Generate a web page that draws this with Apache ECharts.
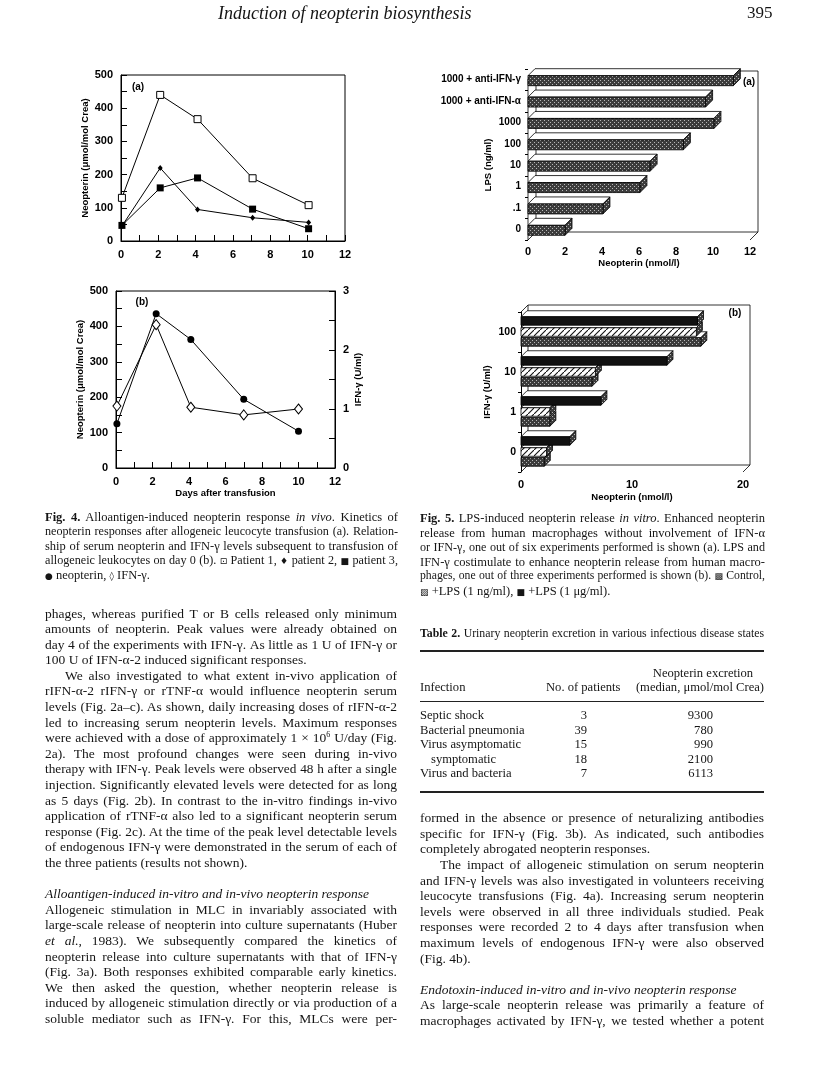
<!DOCTYPE html>
<html>
<head>
<meta charset="utf-8">
<script src="https://cdn.jsdelivr.net/npm/echarts@6/dist/echarts.min.js"></script>
<style>
  html, body { margin: 0; padding: 0; background: #fff; }
  #page { position: relative; width: 816px; height: 1087px; overflow: hidden; }
  #chart { position: absolute; left: 0; top: 0; width: 816px; height: 1087px; }
  .txt { position: absolute; font-family: "Liberation Serif", "DejaVu Serif", serif; color: #151515; }
  .txt div { text-align: justify; }
  .sym { font-family: "DejaVu Sans", sans-serif; font-size: 9px; }
  .cell { position: absolute; font-family: "Liberation Serif", serif; color: #151515; font-size: 12.6px; white-space: nowrap; line-height: 14px; }
  .rule { position: absolute; left: 420px; width: 344px; background: #222; }
</style>
</head>
<body>
<div id="page">
  <div id="chart"></div>
</div>
<script>
// ---- Fig. 4a: serum neopterin of three patients
const daysA = [0.05, 2.1, 4.1, 7.05, 10.05];
const patient1 = [130, 440, 367, 189, 108];
const patient2 = [45, 220, 95, 70, 56];
const patient3 = [47, 160, 190, 96, 37];

// ---- Fig. 4b: neopterin vs IFN-gamma
const daysB = [0.05, 2.2, 4.1, 7, 10];
const neopterinB = [125, 436, 363, 194, 104];
const ifnB = [1.05, 2.43, 1.03, 0.9, 1.0];

// ---- Fig. 5a: LPS doses
const lpsCats = ['0', '.1', '1', '10', '100', '1000', '1000 + anti-IFN-α', '1000 + anti-IFN-γ'];
const lpsValues = [2.0, 4.05, 6.05, 6.6, 8.4, 10.05, 9.6, 11.1];

// ---- Fig. 5b: IFN-gamma with LPS
const ifnCats = ['0', '1', '10', '100'];
const control = [2.1, 2.6, 6.4, 16.2];
const lps1ng = [2.3, 2.6, 6.7, 15.8];
const lps1ug = [4.4, 7.2, 13.15, 15.9];

// ---- Table 2
const infections = ['Septic shock', 'Bacterial pneumonia', 'Virus asymptomatic', '  symptomatic', 'Virus and bacteria'];
const nPatients = ['3', '39', '15', '18', '7'];
const excretion = ['9300', '780', '990', '2100', '6113'];

// ---------- text of the page
const leftBody = [
  'phages, whereas purified T or B cells released only minimum',
  'amounts of neopterin. Peak values were already obtained on',
  'day 4 of the experiments with IFN-γ. As little as 1 U of IFN-γ or',
  '100 U of IFN-α-2 induced significant responses.|',
  '>We also investigated to what extent in-vivo application of',
  'rIFN-α-2 rIFN-γ or rTNF-α would influence neopterin serum',
  'levels (Fig. 2a–c). As shown, daily increasing doses of rIFN-α-2',
  'led to increasing serum neopterin levels. Maximum responses',
  'were achieved with a dose of approximately 1 × 10<sup style="font-size:8px;line-height:0">6</sup> U/day (Fig.',
  '2a). The most profound changes were seen during in-vivo',
  'therapy with IFN-γ. Peak levels were observed 48 h after a single',
  'injection. Significantly elevated levels were detected for as long',
  'as 5 days (Fig. 2b). In contrast to the in-vitro findings in-vivo',
  'application of rTNF-α also led to a significant neopterin serum',
  'response (Fig. 2c). At the time of the peak level detectable levels',
  'of endogenous IFN-γ were demonstrated in the serum of each of',
  'the three patients (results not shown).|',
  '|',
  '<i>Alloantigen-induced in-vitro and in-vivo neopterin response</i>|',
  'Allogeneic stimulation in MLC in invariably associated with',
  'large-scale release of neopterin into culture supernatants (Huber',
  '<i>et al.</i>, 1983). We subsequently compared the kinetics of',
  'neopterin release into culture supernatants with that of IFN-γ',
  '(Fig. 3a). Both responses exhibited comparable early kinetics.',
  'We then asked the question, whether neopterin release is',
  'induced by allogeneic stimulation directly or via production of a',
  'soluble mediator such as IFN-γ. For this, MLCs were per-'
];
const rightBody = [
  'formed in the absence or presence of neturalizing antibodies',
  'specific for IFN-γ (Fig. 3b). As indicated, such antibodies',
  'completely abrogated neopterin responses.|',
  '>The impact of allogeneic stimulation on serum neopterin',
  'and IFN-γ levels was also investigated in volunteers receiving',
  'leucocyte transfusions (Fig. 4a). Increasing serum neopterin',
  'levels were observed in all three individuals studied. Peak',
  'responses were recorded 2 to 4 days after transfusion when',
  'maximum levels of endogenous IFN-γ were also observed',
  '(Fig. 4b).|',
  '|',
  '<i>Endotoxin-induced in-vitro and in-vivo neopterin response</i>|',
  'As large-scale neopterin release was primarily a feature of',
  'macrophages activated by IFN-γ, we tested whether a potent'
];
const cap4 = [
  '<b>Fig. 4.</b> Alloantigen-induced neopterin response <i>in vivo</i>. Kinetics of',
  'neopterin responses after allogeneic leucocyte transfusion (a). Relation-',
  'ship of serum neopterin and IFN-γ levels subsequent to transfusion of',
  'allogeneic leukocytes on day 0 (b). <span class="sym">⊡</span> Patient 1, <span class="sym">♦</span> patient 2, <span class="sym">■</span> patient 3,',
  '<span class="sym">●</span> neopterin, <span class="sym">◊</span> IFN-γ.|'
];
const cap5 = [
  '<b>Fig. 5.</b> LPS-induced neopterin release <i>in vitro</i>. Enhanced neopterin',
  'release from human macrophages without involvement of IFN-α',
  'or IFN-γ, one out of six experiments performed is shown (a). LPS and',
  'IFN-γ costimulate to enhance neopterin release from human macro-',
  'phages, one out of three experiments performed is shown (b). <span class="sym">▩</span> Control,',
  '<span class="sym">▨</span> +LPS (1 ng/ml), <span class="sym">■</span> +LPS (1 μg/ml).|'
];

const page = document.getElementById('page');

// one div per printed line; lines that are too long are shrunk to fit
function block(x, top, width, step, size, lines) {
  const el = document.createElement('div');
  el.className = 'txt';
  el.style.left = x + 'px';
  el.style.top = top + 'px';
  el.style.width = width + 'px';
  page.appendChild(el);
  lines.forEach(function (s) {
    let t = s, last = false, indent = false;
    if (t.startsWith('>')) { indent = true; t = t.slice(1); }
    if (t.endsWith('|')) { last = true; t = t.slice(0, -1); }
    const d = document.createElement('div');
    d.style.height = step + 'px';
    d.style.lineHeight = step + 'px';
    d.style.fontSize = size + 'px';
    d.style.whiteSpace = 'nowrap';
    if (indent) d.style.textIndent = '20px';
    const span = document.createElement('span');
    span.innerHTML = t || '&nbsp;';
    d.appendChild(span);
    el.appendChild(d);
    const avail = width - (indent ? 20 : 0) - 1;
    const w = span.getBoundingClientRect().width;
    if (w > avail) d.style.fontSize = (size * avail / w * 0.99) + 'px';
    d.innerHTML = t || '&nbsp;';
    d.style.whiteSpace = 'normal';
    d.style.textAlignLast = last ? 'left' : 'justify';
  });
}

function cell(html, x, y, align) {
  const d = document.createElement('div');
  d.className = 'cell';
  d.innerHTML = html;
  d.style.top = (y - 7) + 'px';
  if (align === 'right') d.style.right = (816 - x) + 'px';
  else if (align === 'center') { d.style.left = (x - 100) + 'px'; d.style.width = '200px'; d.style.textAlign = 'center'; }
  else d.style.left = x + 'px';
  page.appendChild(d);
}

function rule(y, h) {
  const d = document.createElement('div');
  d.className = 'rule';
  d.style.top = y + 'px';
  d.style.height = h + 'px';
  page.appendChild(d);
}

// running head
const head = document.createElement('div');
head.className = 'txt';
head.style.cssText = 'left:0;width:816px;top:2px;font-size:18px;font-style:italic;line-height:22px;';
head.innerHTML = '<span style="position:absolute;left:218px">Induction of neopterin biosynthesis</span><span style="position:absolute;left:747px;font-style:normal;font-size:17px">395</span>';
page.appendChild(head);

block(45, 605.5, 352, 15.6, 13.5, leftBody);
block(420, 810.2, 344, 15.6, 13.5, rightBody);
block(45, 509.5, 353, 14.6, 12.5, cap4);
block(420, 511, 345, 14.5, 12.5, cap5);
block(420, 626, 344, 14, 12.5, ['<b>Table 2.</b> Urinary neopterin excretion in various infectious disease states']);

rule(650, 1.6);
rule(701, 0.8);
rule(791, 1.6);
cell('Neopterin excretion', 703, 673, 'center');
cell('Infection', 420, 687);
cell('No. of patients', 546, 687);
cell('(median, μmol/mol Crea)', 764, 687, 'right');
const rowY = [715, 729.5, 744, 758.5, 773];
infections.forEach(function (name, i) {
  const sub = name.startsWith('  ');
  cell(name.trim(), sub ? 431 : 420, rowY[i]);
  cell(nPatients[i], 587, rowY[i], 'right');
  cell(excretion[i], 713, rowY[i], 'right');
});

// ---------- chart part
function pattern(kind) {
  const c = document.createElement('canvas');
  const g = c.getContext('2d');
  if (kind === 'dots') {
    c.width = c.height = 4;
    g.fillStyle = '#3c3c3c'; g.fillRect(0, 0, 4, 4);
    g.fillStyle = '#b8b8b8'; g.fillRect(0, 0, 1, 1); g.fillRect(2, 2, 1, 1);
  } else {
    c.width = c.height = 6;
    g.fillStyle = '#fff'; g.fillRect(0, 0, 6, 6);
    g.strokeStyle = '#111'; g.lineWidth = 1.1;
    g.beginPath(); g.moveTo(-1, 7); g.lineTo(7, -1); g.stroke();
  }
  return { image: c, repeat: 'repeat' };
}
const dots = pattern('dots');
const hatch = pattern('hatch');

function bar3d(cfg) {
  return function (params, api) {
    const p0 = api.coord([0, api.value(1)]);
    const p1 = api.coord([api.value(0), api.value(1)]);
    const x0 = p0[0], x1 = p1[0], d = cfg.d;
    const yc = p0[1] + cfg.offset, y0 = yc - cfg.h / 2, y1 = yc + cfg.h / 2;
    const ln = { stroke: '#000', lineWidth: 0.8 };
    return {
      type: 'group',
      children: [
        { type: 'polygon', shape: { points: [[x0, y0], [x1, y0], [x1 + d, y0 - d], [x0 + d, y0 - d]] }, style: Object.assign({ fill: '#fff' }, ln) },
        { type: 'polygon', shape: { points: [[x1, y0], [x1 + d, y0 - d], [x1 + d, y1 - d], [x1, y1]] }, style: Object.assign({ fill: dots }, ln) },
        { type: 'rect', shape: { x: x0, y: y0, width: x1 - x0, height: y1 - y0 }, style: Object.assign({ fill: cfg.front }, ln) }
      ]
    };
  };
}

const F = 'Liberation Sans';
const tickLabel = { color: '#000', fontFamily: F, fontWeight: 'bold', fontSize: 11 };
const nameStyle = { color: '#000', fontFamily: F, fontWeight: 'bold', fontSize: 9.5 };
const black = { color: '#000', width: 1 };

const g5a = { left: 528, top: 69, width: 222, height: 171 };
const g5b = { left: 521, top: 312, width: 222, height: 160 };

function line(p, q) {
  return { type: 'line', shape: { x1: p[0], y1: p[1], x2: q[0], y2: q[1] }, style: { stroke: '#000', lineWidth: 0.8 }, z: 0 };
}
function box(g, d, frontTop) {
  const L = g.left, R = g.left + g.width, B = g.top + g.height, T = frontTop;
  return [
    line([L, T], [L + d, T - d]),
    line([L + d, T - d], [R + d, T - d]),
    line([L + d, T - d], [L + d, B - d]),
    line([R + d, T - d], [R + d, B - d]),
    line([L + d, B - d], [R + d, B - d]),
    line([L, B], [L + d, B - d]),
    line([R, B], [R + d, B - d])
  ];
}
function label(text, x, y, extra) {
  return Object.assign({ type: 'text', x: x, y: y, style: { text: text, fill: '#000', font: 'bold 10px "Liberation Sans"', align: 'center', verticalAlign: 'middle' } }, extra || {});
}

const valueX = {
  type: 'value', min: 0, max: 12, interval: 1,
  axisLine: { lineStyle: black },
  axisTick: { inside: true, length: 6, lineStyle: black },
  axisLabel: Object.assign({ margin: 8, formatter: function (v) { return v % 2 === 0 ? v : ''; } }, tickLabel),
  splitLine: { show: false }
};
const neoY = {
  type: 'value', min: 0, max: 500, interval: 50,
  axisLine: { show: true, lineStyle: black },
  axisTick: { show: true, inside: true, length: 6, lineStyle: black },
  axisLabel: Object.assign({ margin: 8, formatter: function (v) { return v % 100 === 0 ? v : ''; } }, tickLabel),
  splitLine: { show: false },
  name: 'Neopterin (μmol/mol Crea)', nameLocation: 'middle', nameRotate: 90, nameTextStyle: nameStyle
};

const chart = echarts.init(document.getElementById('chart'), null, { renderer: 'canvas' });
chart.setOption({
  animation: false,
  backgroundColor: 'transparent',
  grid: [
    { left: 121, top: 75, width: 224, height: 166, show: true, borderColor: '#000', borderWidth: 1 },
    { left: 116, top: 291, width: 219, height: 177, show: true, borderColor: '#000', borderWidth: 1 },
    g5a,
    g5b
  ],
  xAxis: [
    Object.assign({ gridIndex: 0 }, valueX),
    Object.assign({ gridIndex: 1, name: 'Days after transfusion', nameLocation: 'middle', nameGap: 19, nameTextStyle: nameStyle }, valueX),
    {
      gridIndex: 2, type: 'value', min: 0, max: 12, interval: 1,
      axisLine: { lineStyle: black }, axisTick: { length: 3, lineStyle: black },
      axisLabel: Object.assign({ margin: 6, formatter: function (v) { return v % 2 === 0 ? v : ''; } }, tickLabel),
      splitLine: { show: false },
      name: 'Neopterin (nmol/l)', nameLocation: 'middle', nameGap: 15, nameTextStyle: nameStyle
    },
    {
      gridIndex: 3, type: 'value', min: 0, max: 20, interval: 10,
      axisLine: { lineStyle: black }, axisTick: { length: 3, lineStyle: black },
      axisLabel: Object.assign({ margin: 7 }, tickLabel),
      splitLine: { show: false },
      name: 'Neopterin (nmol/l)', nameLocation: 'middle', nameGap: 20, nameTextStyle: nameStyle
    }
  ],
  yAxis: [
    Object.assign({ gridIndex: 0, nameGap: 23 }, neoY),
    Object.assign({ gridIndex: 1, nameGap: 25 }, neoY),
    {
      gridIndex: 1, type: 'value', position: 'right', min: 0, max: 3, interval: 0.5,
      axisLine: { show: true, lineStyle: black },
      axisTick: { show: true, inside: true, length: 6, lineStyle: black },
      axisLabel: Object.assign({ margin: 8, formatter: function (v) { return Number.isInteger(v) ? v : ''; } }, tickLabel),
      splitLine: { show: false },
      name: 'IFN-γ (U/ml)', nameLocation: 'middle', nameRotate: 90, nameGap: 17, nameTextStyle: nameStyle
    },
    {
      gridIndex: 2, type: 'category', data: lpsCats,
      axisLine: { show: false }, axisTick: { show: true, length: 3, lineStyle: black },
      axisLabel: { color: '#000', fontFamily: F, fontWeight: 'bold', fontSize: 10, margin: 7 }
    },
    {
      gridIndex: 3, type: 'category', data: ifnCats,
      axisLine: { show: true, lineStyle: black }, axisTick: { show: true, length: 3, lineStyle: black },
      axisLabel: { color: '#000', fontFamily: F, fontWeight: 'bold', fontSize: 10.5, margin: 5 },
      name: 'IFN-γ (U/ml)', nameLocation: 'middle', nameRotate: 90, nameGap: 29, nameTextStyle: nameStyle
    }
  ],
  graphic: [].concat(
    [line([g5a.left, g5a.top + g5a.height], [g5a.left, 79])],
    box(g5a, 8, 79),
    box(g5b, 7, g5b.top),
    [
      label('(a)', 138, 87),
      label('(b)', 142, 302),
      label('(a)', 749, 82),
      label('(b)', 735, 313),
      label('LPS (ng/ml)', 488, 165, { rotation: Math.PI / 2, style: { text: 'LPS (ng/ml)', fill: '#000', font: 'bold 9.5px "Liberation Sans"', align: 'center', verticalAlign: 'middle' } })
    ]
  ),
  series: [
    {
      type: 'line', xAxisIndex: 0, yAxisIndex: 0, data: daysA.map(function (d, i) { return [d, patient1[i]]; }),
      symbol: 'rect', symbolSize: 7, lineStyle: black, itemStyle: { color: '#fff', borderColor: '#000', borderWidth: 1 }, z: 3
    },
    {
      type: 'line', xAxisIndex: 0, yAxisIndex: 0, data: daysA.map(function (d, i) { return [d, patient2[i]]; }),
      symbol: 'diamond', symbolSize: [5, 6], lineStyle: black, itemStyle: { color: '#000' }
    },
    {
      type: 'line', xAxisIndex: 0, yAxisIndex: 0, data: daysA.map(function (d, i) { return [d, patient3[i]]; }),
      symbol: 'rect', symbolSize: 7, lineStyle: black, itemStyle: { color: '#000' }
    },
    {
      type: 'line', xAxisIndex: 1, yAxisIndex: 1, data: daysB.map(function (d, i) { return [d, neopterinB[i]]; }),
      symbol: 'circle', symbolSize: 7, lineStyle: black, itemStyle: { color: '#000' }
    },
    {
      type: 'line', xAxisIndex: 1, yAxisIndex: 2, data: daysB.map(function (d, i) { return [d, ifnB[i]]; }),
      symbol: 'diamond', symbolSize: [8, 10], lineStyle: black, itemStyle: { color: '#fff', borderColor: '#000', borderWidth: 1 }, z: 3
    },
    {
      type: 'custom', xAxisIndex: 2, yAxisIndex: 3, clip: false,
      data: lpsValues.map(function (v, i) { return [v, i]; }), encode: { x: 0, y: 1 },
      renderItem: bar3d({ offset: 1, h: 10, d: 7, front: dots })
    },
    {
      type: 'custom', xAxisIndex: 3, yAxisIndex: 4, clip: false,
      data: control.map(function (v, i) { return [v, i]; }), encode: { x: 0, y: 1 },
      renderItem: bar3d({ offset: 10, h: 8.5, d: 6, front: dots })
    },
    {
      type: 'custom', xAxisIndex: 3, yAxisIndex: 4, clip: false,
      data: lps1ng.map(function (v, i) { return [v, i]; }), encode: { x: 0, y: 1 },
      renderItem: bar3d({ offset: 0, h: 8.5, d: 6, front: hatch })
    },
    {
      type: 'custom', xAxisIndex: 3, yAxisIndex: 4, clip: false,
      data: lps1ug.map(function (v, i) { return [v, i]; }), encode: { x: 0, y: 1 },
      renderItem: bar3d({ offset: -11, h: 8.5, d: 6, front: '#111' })
    }
  ]
});
</script>
</body>
</html>
